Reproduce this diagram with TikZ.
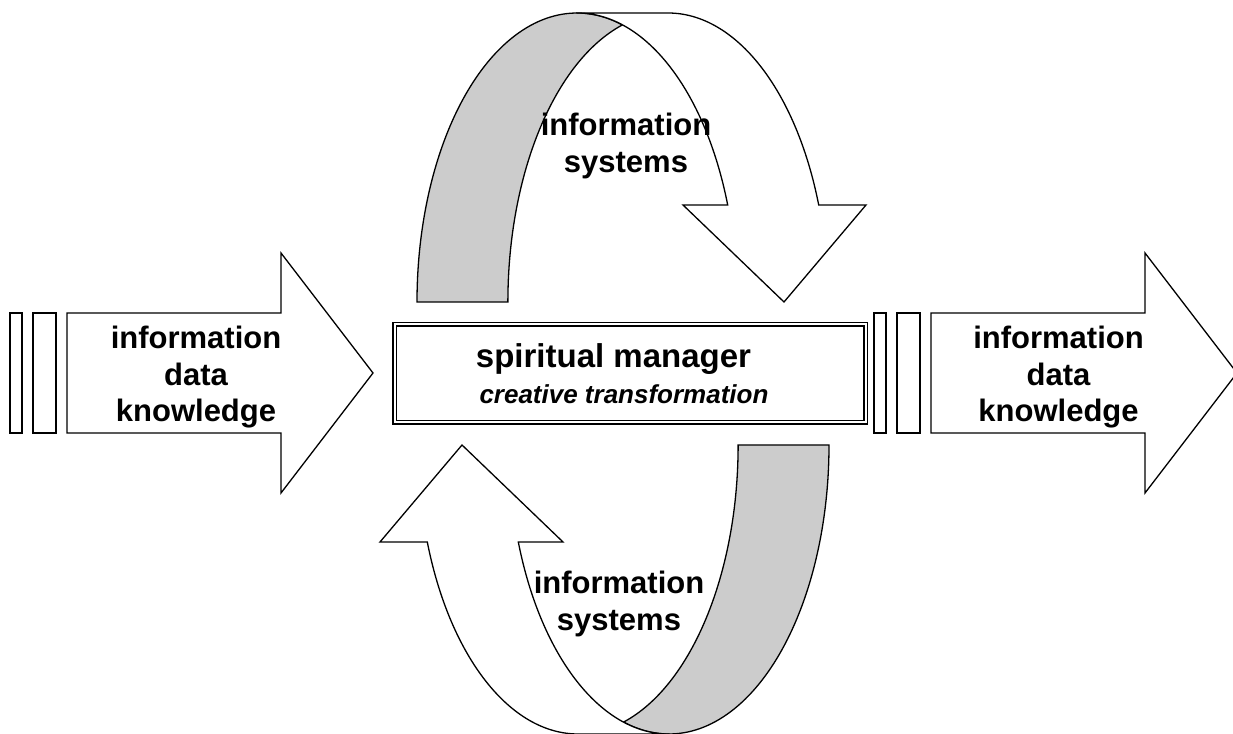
\documentclass[tikz,border=0pt]{standalone}
\usepackage{fontspec}
\setmainfont{Liberation Sans}
\usepackage{tikz}
\tikzset{
  flow/.style={draw, fill=white, line width=1.3pt, line join=miter},
  back/.style={draw, fill=black!20, line width=1.3pt},
  mgrbox/.style={draw, double, double distance=2pt, line width=1.6pt, fill=white,
    minimum width=471pt, minimum height=98pt, inner sep=0pt},
  txt/.style={font=\fontsize{31}{36.5}\selectfont\bfseries, align=center, inner sep=0pt}
}

\begin{document}
\begin{tikzpicture}[x=1pt, y=1pt]
\useasboundingbox (0,0) rectangle (1233,733);

\foreach \dx in {0,864}{
  \begin{scope}[xshift=\dx pt]
    \draw[flow] (10,300) rectangle (22,420);
    \draw[flow] (33,300) rectangle (56,420);
    \draw[flow] (67,300) -- (281,300) -- (281,240) -- (373,360)
      -- (281,480) -- (281,420) -- (67,420) -- cycle;
  \end{scope}
}

\foreach \r in {0,180}{
  \begin{scope}[rotate around={\r:(623,359.5)}]
    \filldraw[back] (417,431)
      arc[start angle=180, end angle=73.5, x radius=160, y radius=289]
      arc[start angle=106.5, end angle=180, x radius=160, y radius=289] -- cycle;
    \filldraw[flow] (577,720) -- (668,720)
      arc[start angle=90, end angle=19.6, x radius=160, y radius=289]
      -- (866,528) -- (784,431) -- (683,528) -- (727.7,528)
      arc[start angle=19.6, end angle=90, x radius=160, y radius=289] -- cycle;
  \end{scope}
}

\node[mgrbox] (mgr) at (630,359.5) {};
\node[font=\fontsize{33}{36}\selectfont\bfseries, inner sep=0pt] (spirit) at (613.5,374) {spiritual manager};
\node[font=\fontsize{26}{30}\selectfont\bfseries\itshape, inner sep=0pt] (create) at (624,338.5) {creative transformation};

\node[txt] (inleft) at (196,355.5) {information\\data\\knowledge};
\node[txt] (inright) at (1058.5,355.5) {information\\data\\knowledge};
\node[txt] (systop) at (626,587) {information\\systems};
\node[txt] (sysbottom) at (619,129) {information\\systems};

\end{tikzpicture}
\end{document}
